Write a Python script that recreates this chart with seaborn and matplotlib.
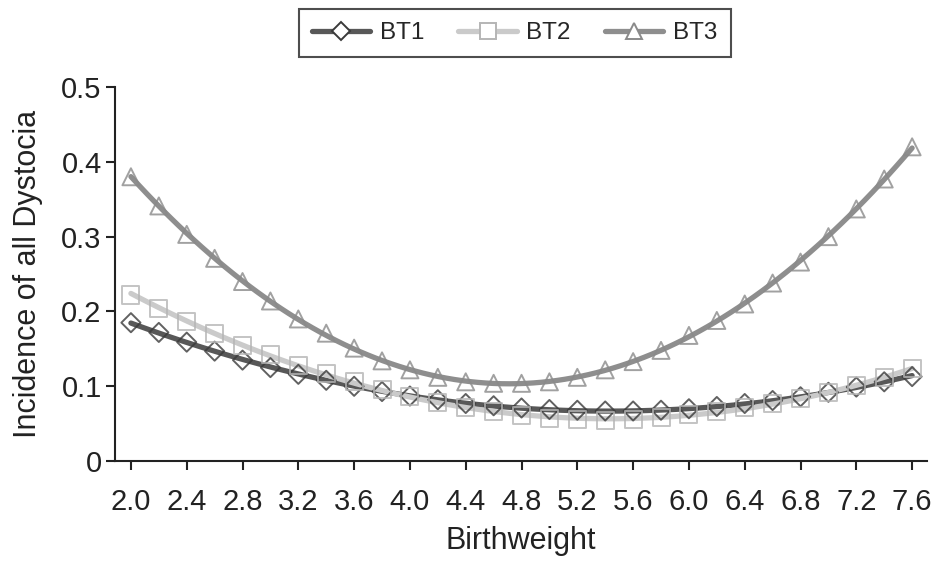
# Incidence of all dystocia by birthweight, three BT groups
import numpy as np
import pandas as pd
import matplotlib
matplotlib.use("Agg")
import matplotlib.pyplot as plt
from matplotlib.lines import Line2D
import seaborn as sns

# Data
birthweight = [2.0, 2.2, 2.4, 2.6, 2.8, 3.0, 3.2, 3.4, 3.6, 3.8, 4.0, 4.2, 4.4, 4.6, 4.8,
               5.0, 5.2, 5.4, 5.6, 5.8, 6.0, 6.2, 6.4, 6.6, 6.8, 7.0, 7.2, 7.4, 7.6]
bt1 = [0.185, 0.172, 0.159, 0.147, 0.135, 0.125, 0.116, 0.108, 0.100, 0.093, 0.087, 0.082,
       0.077, 0.074, 0.071, 0.069, 0.068, 0.067, 0.067, 0.068, 0.070, 0.073, 0.077, 0.081,
       0.086, 0.092, 0.099, 0.106, 0.113]
bt2 = [0.222, 0.204, 0.187, 0.171, 0.155, 0.142, 0.128, 0.117, 0.106, 0.096, 0.087, 0.079,
       0.072, 0.066, 0.061, 0.057, 0.055, 0.054, 0.055, 0.058, 0.062, 0.066, 0.072, 0.077,
       0.084, 0.092, 0.101, 0.112, 0.124]
bt3 = [0.380, 0.341, 0.303, 0.271, 0.240, 0.214, 0.190, 0.171, 0.151, 0.134, 0.122, 0.112,
       0.106, 0.104, 0.104, 0.106, 0.112, 0.122, 0.133, 0.148, 0.168, 0.188, 0.210, 0.238,
       0.266, 0.300, 0.337, 0.377, 0.420]
series_names = ["BT1", "BT2", "BT3"]
x_ticks = [2.0, 2.4, 2.8, 3.2, 3.6, 4.0, 4.4, 4.8, 5.2, 5.6, 6.0, 6.4, 6.8, 7.2, 7.6]
y_ticks = [0, 0.1, 0.2, 0.3, 0.4, 0.5]

df = pd.DataFrame({"Birthweight": birthweight, "BT1": bt1, "BT2": bt2, "BT3": bt3})

sns.set_style("ticks")
plt.rcParams['font.family'] = ['Liberation Sans', 'DejaVu Sans']

# line colour, marker edge colour, marker, size
styles = {
    "BT1": ("#585858", "#3a3a3a", "D", 95),
    "BT2": ("#cacaca", "#b5b5b5", "s", 150),
    "BT3": ("#8e8e8e", "#8a8a8a", "^", 150),
}

fig = plt.figure(figsize=(9.34, 5.61), dpi=100)
ax = fig.add_axes([0.123, 0.178, 0.870, 0.667])

for name in series_names:
    lc, mc, mk, sz = styles[name]
    sns.regplot(data=df, x="Birthweight", y=name, order=2, ci=None, ax=ax, marker=mk,
                scatter_kws=dict(s=sz, facecolors="none", edgecolors=mc, linewidths=1.4,
                                 color=mc, zorder=3),
                line_kws=dict(color=lc, lw=3.8, zorder=2))

ax.set_xlim(1.885, 7.71)
ax.set_ylim(0, 0.5)
ax.set_xticks(x_ticks)
ax.set_xticklabels([f"{v:.1f}" for v in x_ticks])
ax.set_yticks(y_ticks)
ax.set_yticklabels(["0" if v == 0 else f"{v:.1f}" for v in y_ticks])
ax.tick_params(axis="both", labelsize=21, length=6.5, width=1.5, colors="#222222")
ax.tick_params(axis="x", pad=13)
ax.tick_params(axis="y", pad=3)
for sp in ["left", "bottom"]:
    ax.spines[sp].set_linewidth(1.5)
    ax.spines[sp].set_color("#222222")
sns.despine(ax=ax)
ax.set_xlabel("Birthweight", fontsize=22, color="#222222", labelpad=7)
ax.set_ylabel("Incidence of all Dystocia", fontsize=22, color="#222222", labelpad=13)

handles = [Line2D([], [], color=styles[n][0], lw=3.8, marker=styles[n][2],
                  markerfacecolor="white", markeredgecolor=styles[n][1],
                  markeredgewidth=1.4, markersize=11 if n != "BT1" else 9)
           for n in series_names]
leg = fig.legend(handles, series_names, loc="center", bbox_to_anchor=(0.551, 0.941),
                 ncol=3, fontsize=17.5, frameon=True, fancybox=False, handlelength=2.4,
                 columnspacing=1.4, handletextpad=0.4, borderpad=0.55)
leg.get_frame().set_edgecolor("#222222")
leg.get_frame().set_linewidth(1.5)

fig.savefig("out.png", dpi=100)
